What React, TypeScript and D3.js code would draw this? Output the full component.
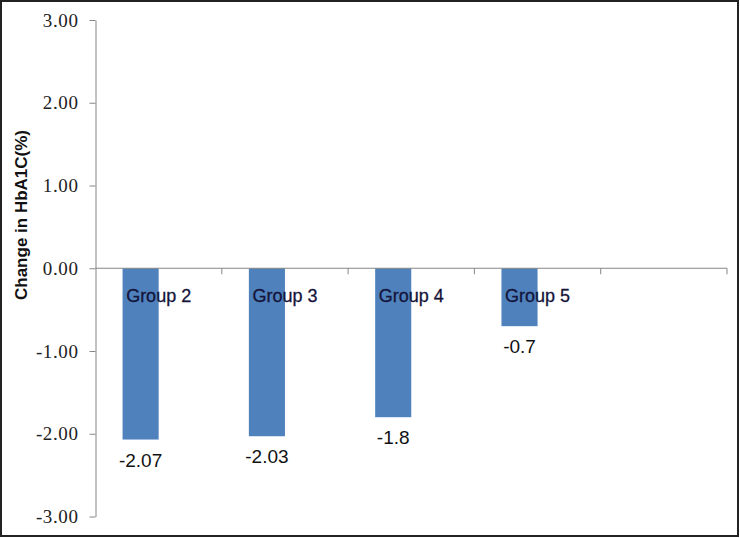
import React, { useEffect, useRef } from "react";
import * as d3 from "d3";

// categories along the x axis (last slot is empty in the original chart)
const groups = ["Group 2", "Group 3", "Group 4", "Group 5", ""];
// series in each category: only the first one carries values
const seriesNames = ["HbA1C", "empty"];
const changeValues = [-2.07, -2.03, -1.8, -0.7, null];
const yTicks = [-3, -2, -1, 0, 1, 2, 3];
const yTitle = "Change in HbA1C(%)";

const width = 740;
const height = 538;

function App() {
  const ref = useRef<SVGSVGElement>(null);

  useEffect(() => {
    drawChart();
  }, []);

  function drawChart() {
    const svg = d3.select(ref.current);
    svg.selectAll("*").remove();

    const left = 95.5;
    const right = 727;
    const top = 20;
    const bottom = 516.5;

    svg
      .append("rect")
      .attr("width", width)
      .attr("height", height)
      .attr("fill", "#fff");

    const yScale = d3.scaleLinear().domain([-3, 3]).range([bottom, top]);

    const xScale = d3
      .scaleBand()
      .domain(groups)
      .range([left, right])
      .paddingInner(0)
      .paddingOuter(0);

    const xSub = d3
      .scaleBand()
      .domain(seriesNames)
      .range([0, xScale.bandwidth()])
      .paddingInner(0)
      .paddingOuter(0.75);

    // y axis
    const yAxis = svg
      .append("g")
      .attr("transform", `translate(${left},0)`)
      .call(
        d3
          .axisLeft(yScale)
          .tickValues(yTicks)
          .tickFormat((d) => (+d).toFixed(2))
          .tickSize(6)
          .tickSizeOuter(0)
          .tickPadding(11)
      );
    yAxis.select(".domain").attr("stroke", "#868686");
    yAxis.selectAll(".tick line").attr("stroke", "#868686");
    yAxis
      .selectAll(".tick text")
      .attr("fill", "#222")
      .attr("font-family", "'Liberation Serif', 'Times New Roman', serif")
      .attr("font-size", 19)
      .attr("letter-spacing", 0.6);

    // bars
    const rows = groups.map((g, i) => ({ group: g, value: changeValues[i] }));
    svg
      .append("g")
      .selectAll("rect")
      .data(rows.filter((d) => d.value !== null))
      .join("rect")
      .attr("x", (d) => (xScale(d.group) as number) + (xSub(seriesNames[0]) as number))
      .attr("width", xSub.bandwidth())
      .attr("y", yScale(0))
      .attr("height", (d) => yScale(d.value as number) - yScale(0))
      .attr("fill", "#4F81BD");

    // x axis line at zero
    const y0 = yScale(0);
    svg
      .append("line")
      .attr("x1", left)
      .attr("x2", right)
      .attr("y1", y0)
      .attr("y2", y0)
      .attr("stroke", "#868686");

    const boundaries = groups.map((g) => xScale(g) as number).concat([right]);
    svg
      .append("g")
      .selectAll("line")
      .data(boundaries.slice(1))
      .join("line")
      .attr("x1", (d) => d)
      .attr("x2", (d) => d)
      .attr("y1", y0)
      .attr("y2", y0 + 6)
      .attr("stroke", "#868686");

    // category labels
    svg
      .append("g")
      .selectAll("text")
      .data(groups)
      .join("text")
      .attr("x", (d) => (xScale(d) as number) + xScale.bandwidth() / 2)
      .attr("y", y0 + 34)
      .attr("text-anchor", "middle")
      .attr("fill", "#14143a")
      .attr("stroke", "#14143a")
      .attr("stroke-width", 0.3)
      .style("font-family", "'Liberation Sans', Arial, sans-serif")
      .style("font-size", "18px")
      .text((d) => d);

    // value labels
    svg
      .append("g")
      .selectAll("text")
      .data(rows.filter((d) => d.value !== null))
      .join("text")
      .attr(
        "x",
        (d) =>
          (xScale(d.group) as number) +
          (xSub(seriesNames[0]) as number) +
          xSub.bandwidth() / 2
      )
      .attr("y", (d) => yScale(d.value as number) + 27)
      .attr("text-anchor", "middle")
      .attr("fill", "#111")
      .style("font-family", "'Liberation Sans', Arial, sans-serif")
      .style("font-size", "19px")
      .text((d) => String(d.value));

    // y title
    svg
      .append("text")
      .attr("transform", `translate(27,215) rotate(-90)`)
      .attr("text-anchor", "middle")
      .attr("fill", "#111")
      .style("font-family", "'Liberation Sans', Arial, sans-serif")
      .style("font-size", "17px")
      .style("font-weight", "bold")
      .text(yTitle);

    // frame
    svg
      .append("rect")
      .attr("x", 1)
      .attr("y", 1)
      .attr("width", width - 3)
      .attr("height", height - 3)
      .attr("fill", "none")
      .attr("stroke", "#222")
      .attr("stroke-width", 2);
  }

  return (
    <svg
      ref={ref}
      width={width}
      height={height}
      style={{ position: "absolute", left: 0, top: 0, display: "block" }}
    />
  );
}

export default App;
